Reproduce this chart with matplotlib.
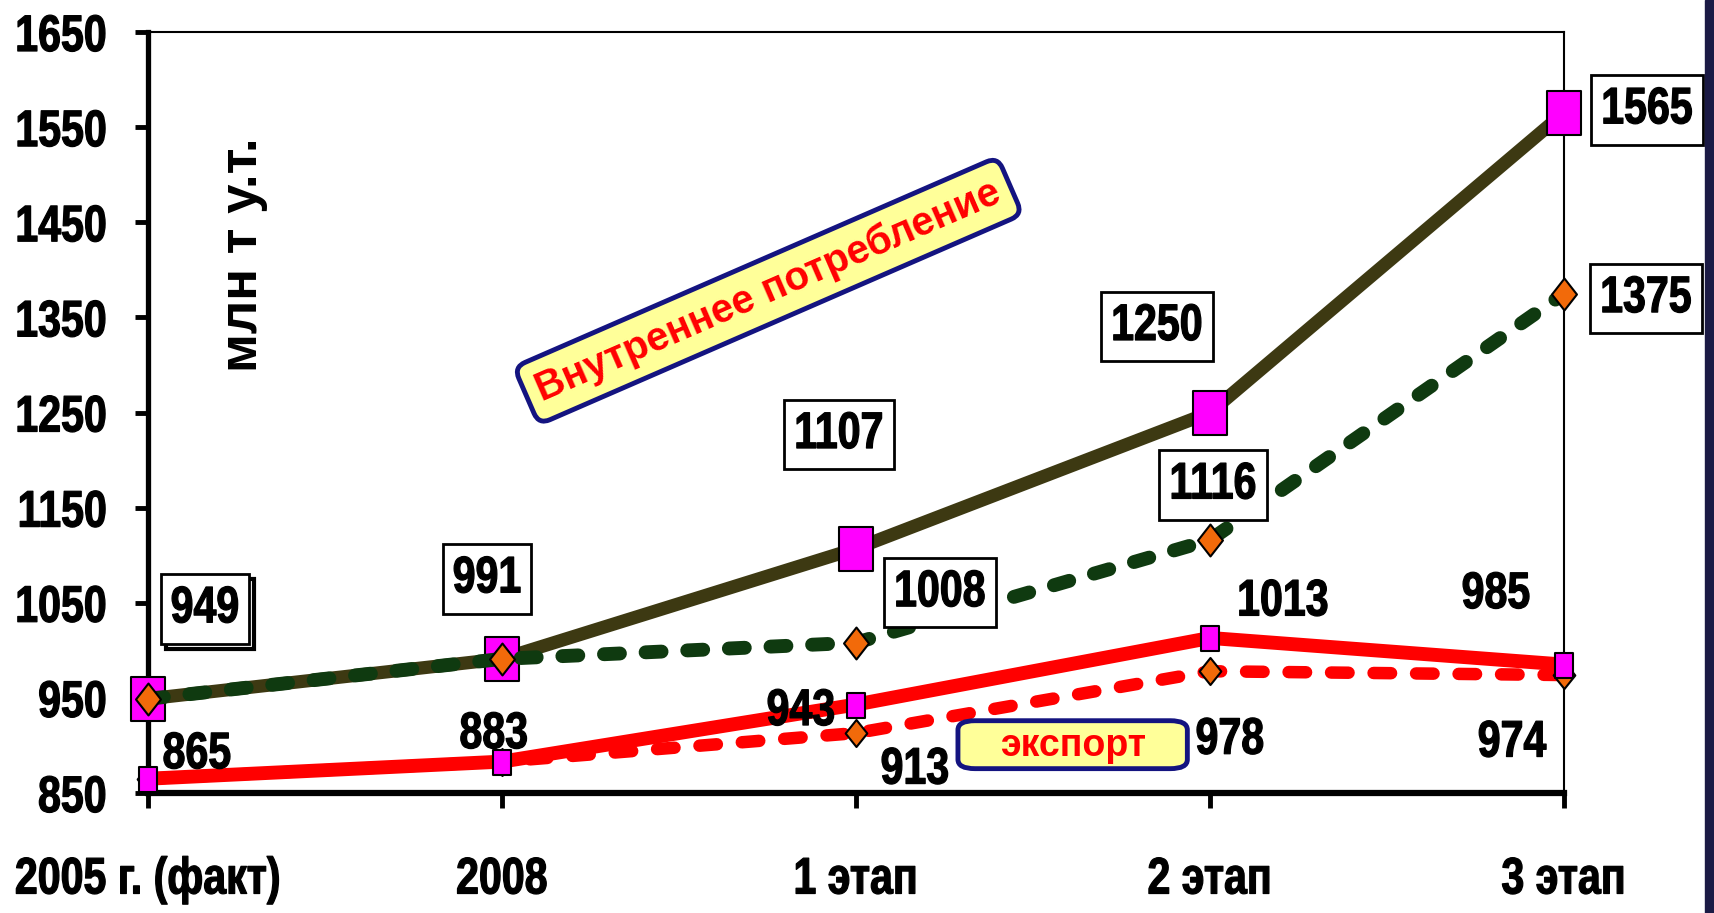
import numpy as np
import matplotlib.pyplot as plt
from matplotlib.path import Path
from matplotlib.patches import FancyBboxPatch, Rectangle
from matplotlib.patheffects import AbstractPathEffect
from matplotlib.transforms import Affine2D

# data
categories = ['2005 г. (факт)', '2008', '1 этап', '2 этап', '3 этап']
consumption = [949, 991, 1107, 1250, 1565]
consumption_alt = [949, 991, 1008, 1116, 1375]
export = [865, 883, 943, 1013, 985]
export_alt = [865, 883, 913, 978, 974]
yticks = [850, 950, 1050, 1150, 1250, 1350, 1450, 1550, 1650]

FONT = ['Liberation Sans', 'DejaVu Sans']
SQ = 0.8  # the reference uses a narrow face, squeeze glyphs horizontally


class Narrow(AbstractPathEffect):
    """draw the text path squeezed in x (around centre or right edge), a bit heavier"""

    def __init__(self, sx=SQ, anchor='center', stroke=0.9):
        super().__init__()
        self.sx = sx
        self.anchor = anchor
        self.stroke = stroke

    def draw_path(self, renderer, gc, tpath, affine, rgbFace=None):
        v = tpath.vertices
        if len(v) == 0:
            return
        cx = v[:, 0].max() if self.anchor == 'right' else (v[:, 0].min() + v[:, 0].max()) / 2
        squeeze = Affine2D().translate(-cx, 0).scale(self.sx, 1).translate(cx, 0)
        gc0 = renderer.new_gc()
        gc0.copy_properties(gc)
        gc0.set_linewidth(self.stroke)
        gc0.set_foreground(rgbFace)
        gc0.set_joinstyle('round')
        renderer.draw_path(gc0, tpath, squeeze + affine, rgbFace)
        gc0.restore()


def narrow_box(x0, y0, width, height, mutation_size):
    # square box that follows the squeezed text width
    pad = 0.2 * mutation_size
    w = width * SQ
    cx = x0 + width / 2
    l, r = cx - w / 2 - pad, cx + w / 2 + pad
    b, t = y0 - pad, y0 + height + pad
    return Path([(l, b), (r, b), (r, t), (l, t), (l, b)], closed=True)


def rect_marker(ratio):
    w = ratio / 2
    return Path([(-w, -0.5), (w, -0.5), (w, 0.5), (-w, 0.5), (-w, -0.5)], closed=True)


def diamond_marker(ratio):
    w = ratio / 2
    return Path([(0, 0.5), (w, 0), (0, -0.5), (-w, 0), (0, 0.5)], closed=True)


fig = plt.figure(figsize=(17.14, 9.13), dpi=100)
ax = fig.add_axes([148 / 1714, 1 - 793 / 913, (1564 - 148) / 1714, (793 - 32) / 913])
x = np.arange(len(categories))

ax.plot(x, consumption, '-', color='#3d3912', lw=9.5, zorder=3,
        marker=rect_marker(0.77), ms=31, mfc='#ff00ff', mec='black', mew=1.5,
        clip_on=False)
ax.plot(x, consumption_alt, color='#0f3a10', lw=10, zorder=4,
        dashes=(1.15, 1.85), dash_capstyle='round',
        marker=diamond_marker(0.78), ms=23, mfc='#f26a0a', mec='black', mew=1.5,
        clip_on=False)
ax.plot(x, export_alt, color='#ff0000', lw=9, zorder=5,
        dashes=(1.4, 2.0), dash_capstyle='round',
        marker=diamond_marker(0.8), ms=19.5, mfc='#f26a0a', mec='black', mew=1.5,
        clip_on=False)
ax.plot(x, export, '-', color='#ff0000', lw=10, zorder=6,
        marker=rect_marker(0.72), ms=18, mfc='#ff00ff', mec='black', mew=1.5,
        clip_on=False)

box = dict(boxstyle=narrow_box, fc='white', ec='black', lw=2)
lab = dict(textcoords='offset pixels', ha='center', va='center', fontsize=37,
           fontweight='bold', family=FONT, zorder=10, annotation_clip=False,
           path_effects=[Narrow()])

# boxed labels for internal consumption
cons_off = [(57, 90), (-15, 80), (-17, 114), (-53, 86), (83, 3)]
ax.annotate(str(consumption[0]), (0, consumption[0]), xytext=(62, 85),
            color='white', bbox=dict(box, lw=3), **dict(lab, zorder=9))
for i, v in enumerate(consumption):
    ax.annotate(str(v), (i, v), xytext=cons_off[i], bbox=box, **lab)

alt_off = {2: (84, 50), 3: (3, 55), 4: (82, -5)}
for i, off in alt_off.items():
    ax.annotate(str(consumption_alt[i]), (i, consumption_alt[i]), xytext=off, bbox=box, **lab)

# plain labels for export
exp_off = [(49, 24), (-8, 27), (-55, -7), (73, 36), (-68, 70)]
for i, v in enumerate(export):
    ax.annotate(str(v), (i, v), xytext=exp_off[i], **lab)

exp_alt_off = {2: (59, -37), 3: (20, -69), 4: (-52, -68)}
for i, off in exp_alt_off.items():
    ax.annotate(str(export_alt[i]), (i, export_alt[i]), xytext=off, **lab)

# axes styling
ax.set_xlim(0, 4)
ax.set_ylim(850, 1650)
ax.set_xticks(x)
ax.set_xticklabels(categories)
ax.set_yticks(yticks)
for t in ax.get_xticklabels():
    t.set_family(FONT)
    t.set_fontweight('bold')
    t.set_fontsize(37)
    t.set_path_effects([Narrow()])
for t in ax.get_yticklabels():
    t.set_family(FONT)
    t.set_fontweight('bold')
    t.set_fontsize(37)
    t.set_path_effects([Narrow(anchor='right')])
ax.tick_params(axis='y', direction='out', length=9.5, width=3.5, pad=20)
ax.tick_params(axis='x', direction='out', length=11, width=3.5, pad=34)
ax.spines['left'].set_linewidth(3.8)
ax.spines['bottom'].set_linewidth(4.5)
ax.spines['top'].set_linewidth(1.5)
ax.spines['right'].set_linewidth(1.5)

ax.text(0.067, 0.707, 'млн т у.т.', transform=ax.transAxes, rotation=90,
        ha='center', va='center', fontsize=38, fontweight='bold', family=FONT)

# annotation boxes
ax.text(0.438, 0.66, 'Внутреннее потребление', transform=ax.transAxes,
        rotation=23.5, rotation_mode='anchor', ha='center', va='center',
        fontsize=29, fontweight='bold', color='#ff0000', family=FONT, zorder=8,
        bbox=dict(boxstyle='round,pad=0.3', fc='#ffff99', ec='#141480', lw=3.5))

ax.add_patch(FancyBboxPatch((0.572, 0.032), 0.162, 0.063, transform=ax.transAxes,
                            boxstyle='round,pad=0,rounding_size=0.012',
                            fc='#ffff99', ec='#141480', lw=3.5, zorder=8,
                            clip_on=False))
ax.text(0.653, 0.062, 'экспорт', transform=ax.transAxes, ha='center', va='center',
        fontsize=27, fontweight='bold', color='#ff0000', family=FONT, zorder=9)

fig.patches.append(Rectangle((1705 / 1714, 0), 9 / 1714, 1, transform=fig.transFigure,
                             color='#1b1a45', zorder=20))

fig.savefig('out.png', dpi=100, facecolor='white')
